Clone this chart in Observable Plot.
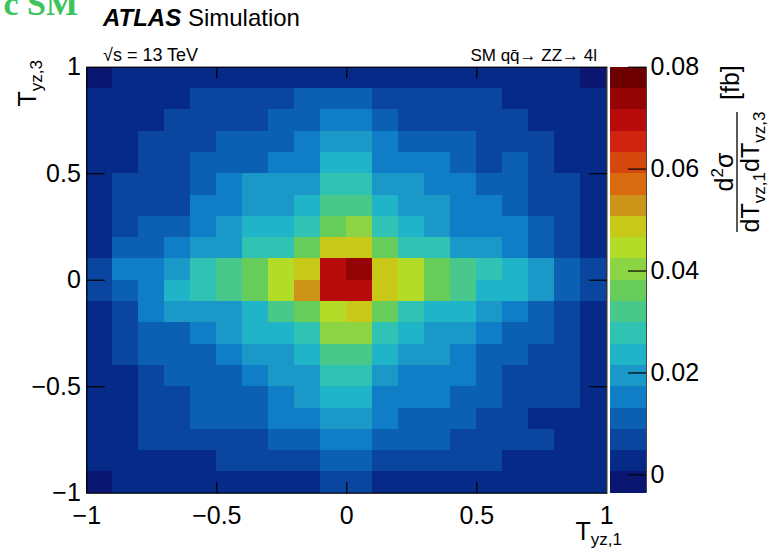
<!DOCTYPE html>
<html><head><meta charset="utf-8">
<script src="https://cdn.jsdelivr.net/npm/d3@7"></script>
<script src="https://cdn.jsdelivr.net/npm/@observablehq/plot@0.6"></script>
<style>
body{margin:0;background:#fff;}
#chart{position:relative;width:769px;height:548px;overflow:hidden;font-family:"Liberation Sans",Arial,Helvetica,sans-serif;background:#fff;}
#chart svg{position:absolute;left:0;top:0;}
</style></head><body><div id="chart"></div>
<script>
// ---------- data ----------
const xBinEdges = [-1,-0.9,-0.8,-0.7,-0.6,-0.5,-0.4,-0.3,-0.2,-0.1,0,0.1,0.2,0.3,0.4,0.5,0.6,0.7,0.8,0.9,1];
const yBinEdges = [-1,-0.9,-0.8,-0.7,-0.6,-0.5,-0.4,-0.3,-0.2,-0.1,0,0.1,0.2,0.3,0.4,0.5,0.6,0.7,0.8,0.9,1];
// d2sigma/dT1dT3 [fb], rows from T_yz,3 = 1 (top) down to -1 (bottom), columns T_yz,1 = -1 .. 1
const rowsTopToBottom = [
  [-0.0015,0.0027,0.0027,0.0027,0.0027,0.0027,0.0027,0.0027,0.0027,0.0027,0.0027,0.0027,0.0027,0.0027,0.0027,0.0027,0.0027,0.0027,0.0027,-0.0015],
  [0.0027,0.0027,0.0027,0.0027,0.0069,0.0069,0.0069,0.0069,0.0111,0.0111,0.0111,0.0069,0.0069,0.0069,0.0069,0.0069,0.0027,0.0027,0.0027,0.0027],
  [0.0027,0.0027,0.0027,0.0069,0.0069,0.0069,0.0069,0.0111,0.0111,0.0153,0.0153,0.0111,0.0069,0.0069,0.0069,0.0069,0.0069,0.0027,0.0027,0.0027],
  [0.0027,0.0027,0.0069,0.0069,0.0069,0.0111,0.0111,0.0111,0.0153,0.0194,0.0194,0.0153,0.0111,0.0111,0.0111,0.0069,0.0069,0.0069,0.0027,0.0027],
  [0.0027,0.0027,0.0069,0.0069,0.0111,0.0111,0.0111,0.0153,0.0153,0.0236,0.0236,0.0153,0.0153,0.0153,0.0111,0.0069,0.0111,0.0069,0.0027,0.0027],
  [0.0027,0.0069,0.0069,0.0069,0.0111,0.0153,0.0194,0.0194,0.0194,0.0278,0.0278,0.0194,0.0194,0.0153,0.0153,0.0111,0.0111,0.0069,0.0069,0.0027],
  [0.0027,0.0069,0.0069,0.0069,0.0153,0.0153,0.0194,0.0194,0.0236,0.0320,0.0320,0.0236,0.0194,0.0194,0.0153,0.0153,0.0111,0.0069,0.0069,0.0027],
  [0.0027,0.0069,0.0111,0.0111,0.0153,0.0194,0.0236,0.0236,0.0278,0.0362,0.0404,0.0278,0.0236,0.0194,0.0153,0.0153,0.0153,0.0111,0.0069,0.0027],
  [0.0027,0.0111,0.0111,0.0153,0.0194,0.0194,0.0278,0.0278,0.0362,0.0487,0.0487,0.0362,0.0278,0.0278,0.0194,0.0194,0.0153,0.0111,0.0069,0.0027],
  [0.0069,0.0153,0.0153,0.0194,0.0278,0.0320,0.0362,0.0446,0.0487,0.0697,0.0738,0.0487,0.0446,0.0362,0.0320,0.0278,0.0236,0.0194,0.0111,0.0069],
  [0.0069,0.0111,0.0153,0.0236,0.0278,0.0320,0.0362,0.0446,0.0529,0.0697,0.0697,0.0487,0.0446,0.0362,0.0320,0.0236,0.0236,0.0194,0.0111,0.0069],
  [0.0027,0.0069,0.0153,0.0194,0.0194,0.0194,0.0236,0.0320,0.0362,0.0446,0.0487,0.0362,0.0278,0.0236,0.0236,0.0194,0.0153,0.0111,0.0069,0.0027],
  [0.0027,0.0069,0.0111,0.0111,0.0153,0.0194,0.0236,0.0236,0.0278,0.0404,0.0404,0.0278,0.0236,0.0194,0.0194,0.0153,0.0111,0.0111,0.0069,0.0027],
  [0.0027,0.0069,0.0111,0.0111,0.0111,0.0153,0.0194,0.0194,0.0236,0.0320,0.0320,0.0236,0.0194,0.0194,0.0153,0.0111,0.0111,0.0069,0.0069,0.0027],
  [0.0027,0.0027,0.0069,0.0111,0.0111,0.0111,0.0153,0.0194,0.0194,0.0278,0.0278,0.0194,0.0153,0.0153,0.0153,0.0111,0.0069,0.0069,0.0069,0.0027],
  [0.0027,0.0027,0.0069,0.0069,0.0111,0.0111,0.0111,0.0153,0.0194,0.0236,0.0236,0.0153,0.0153,0.0153,0.0111,0.0111,0.0069,0.0069,0.0069,0.0027],
  [0.0027,0.0027,0.0069,0.0069,0.0111,0.0111,0.0111,0.0153,0.0153,0.0194,0.0194,0.0153,0.0111,0.0111,0.0111,0.0069,0.0069,0.0027,0.0027,0.0027],
  [0.0027,0.0027,0.0069,0.0069,0.0069,0.0069,0.0069,0.0111,0.0111,0.0153,0.0153,0.0111,0.0111,0.0111,0.0069,0.0069,0.0069,0.0069,0.0027,0.0027],
  [0.0027,0.0027,0.0027,0.0027,0.0027,0.0069,0.0069,0.0069,0.0069,0.0111,0.0111,0.0069,0.0069,0.0069,0.0069,0.0069,0.0027,0.0027,0.0027,0.0027],
  [-0.0015,0.0027,0.0027,0.0027,0.0027,0.0027,0.0027,0.0027,0.0027,0.0069,0.0069,0.0027,0.0027,0.0027,0.0027,0.0027,0.0027,0.0027,0.0027,0.0027]
];
const xTicks = [-1, -0.5, 0, 0.5, 1];
const yTicks = [-1, -0.5, 0, 0.5, 1];
const zTicks = [0, 0.02, 0.04, 0.06, 0.08];
const zMin = -0.0036, zMax = 0.08, nLevels = 20;
const palette = ["#0b1670","#062a88","#0a46a0","#0c60b2","#107ec6","#1a98c8","#20b4c8","#30c2b2","#48c88a","#66cc5a",
                 "#8cd444","#b2dc28","#c8c818","#cc9418","#d86a10","#d4480e","#d02410","#b80c0c","#940404","#6e0000"];

// ---------- derived ----------
const zEdges = d3.range(nLevels + 1).map(k => zMin + (zMax - zMin) * k / nLevels);
const thresholds = zEdges.slice(1, -1);
const bands = d3.range(nLevels).map(k => ({lo: zEdges[k], hi: zEdges[k + 1], mid: (zEdges[k] + zEdges[k + 1]) / 2}));
const nRows = rowsTopToBottom.length;
const cells = [];
rowsTopToBottom.forEach((row, i) => row.forEach((v, j) => cells.push({
  x1: xBinEdges[j], x2: xBinEdges[j + 1], y1: yBinEdges[nRows - 1 - i], y2: yBinEdges[nRows - i], v
})));
const colorScale = {type: "threshold", domain: thresholds, range: palette};
const fmt = d => d === 0 ? "0" : (d < 0 ? "\u2212" : "") + Math.abs(d);
const FONT = "'Liberation Sans', Arial, Helvetica, sans-serif";
const W = 769, H = 548;
const innerX = [-0.5, 0, 0.5], innerY = [-0.5, 0, 0.5];
const tX = 0.052, tY = 0.069; // inward tick lengths (data units)

const heat = Plot.plot({
  width: W, height: H,
  marginLeft: 86.3, marginRight: W - 606.3, marginTop: 66.7, marginBottom: H - 492.7,
  x: {domain: [-1, 1]},
  y: {domain: [-1, 1]},
  color: colorScale,
  style: {background: "transparent", fontFamily: FONT, color: "black", overflow: "visible"},
  marks: [
    Plot.rect(cells, {x1: "x1", x2: "x2", y1: "y1", y2: "y2", fill: "v", shapeRendering: "crispEdges"}),
    Plot.link(innerX, {x1: d => d, x2: d => d, y1: -1, y2: -1 + tX, stroke: "black", strokeWidth: 1.2}),
    Plot.link(innerX, {x1: d => d, x2: d => d, y1: 1, y2: 1 - tX, stroke: "black", strokeWidth: 1.2}),
    Plot.link(innerY, {y1: d => d, y2: d => d, x1: -1, x2: -1 + tY, stroke: "black", strokeWidth: 1.2}),
    Plot.link(innerY, {y1: d => d, y2: d => d, x1: 1, x2: 1 - tY, stroke: "black", strokeWidth: 1.2}),
    Plot.frame({stroke: "black", strokeWidth: 1.2}),
    Plot.axisX(xTicks, {tickSize: 0, tickPadding: 13, tickFormat: fmt, label: null, fontSize: 25}),
    Plot.axisY(yTicks, {tickSize: 0, tickPadding: 6, tickFormat: fmt, label: null, fontSize: 25})
  ]
});

const cbar = Plot.plot({
  width: W, height: H,
  marginLeft: 610, marginRight: W - 646, marginTop: 66.7, marginBottom: H - 492.7,
  x: {domain: [0, 1], axis: null},
  y: {domain: [zMin, zMax], axis: null},
  color: colorScale,
  style: {background: "transparent", fontFamily: FONT, color: "black", overflow: "visible"},
  marks: [
    Plot.rect(bands, {x1: 0, x2: 1, y1: "lo", y2: "hi", fill: "mid", shapeRendering: "crispEdges"}),
    Plot.ruleY(zTicks, {x1: 0.5, x2: 1, stroke: "black", strokeWidth: 1.2}),
    Plot.ruleX([1], {stroke: "#444"}),
    Plot.axisY(zTicks, {anchor: "right", tickSize: 0, tickPadding: 4, tickFormat: d => String(d), label: null, fontSize: 25})
  ]
});

const chart = document.getElementById("chart");
chart.appendChild(heat);
chart.appendChild(cbar);

// ---------- text annotations ----------
const svg = d3.create("svg").attr("width", W).attr("height", H).style("font-family", FONT).style("overflow", "visible");
svg.append("text").attr("x", 78).attr("y", 15).attr("text-anchor", "end")
  .style("font-family", "'Liberation Serif', 'Times New Roman', serif").style("font-weight", "bold")
  .style("font-size", "34px").attr("fill", "#3ec45c").text("c SM");
const t1 = svg.append("text").attr("x", 103).attr("y", 26).style("font-size", "24px");
t1.append("tspan").style("font-weight", "bold").style("font-style", "italic").text("ATLAS");
t1.append("tspan").text(" Simulation");
svg.append("text").attr("x", 103).attr("y", 61).style("font-size", "18px").text("\u221As = 13 TeV");
svg.append("text").attr("x", 597).attr("y", 61).attr("text-anchor", "end").style("font-size", "17px")
  .text("SM  qq\u0304\u2192 ZZ\u2192 4l");

// x title
const xt = svg.append("text").attr("x", 622).attr("y", 540).attr("text-anchor", "end").style("font-size", "25px");
xt.append("tspan").text("T");
xt.append("tspan").attr("dy", 5).style("font-size", "17px").text("yz,1");
// y title
const yt = svg.append("g").attr("transform", "translate(36,60) rotate(-90)");
const ytt = yt.append("text").attr("text-anchor", "end").style("font-size", "25px");
ytt.append("tspan").text("T");
ytt.append("tspan").attr("dy", 6).style("font-size", "17px").text("yz,3");
// colour bar title (fraction)
const zt = svg.append("g").attr("transform", "translate(737,232) rotate(-90)");
zt.append("line").attr("x1", 0).attr("x2", 120).attr("y1", 0).attr("y2", 0).attr("stroke", "black").attr("stroke-width", 1.3);
const num = zt.append("text").attr("x", 60).attr("y", -4).attr("text-anchor", "middle").style("font-size", "25px");
num.append("tspan").text("d");
num.append("tspan").attr("dy", -10).style("font-size", "17px").text("2");
num.append("tspan").attr("dy", 10).text("\u03C3");
const den = zt.append("text").attr("x", 60).attr("y", 22).attr("text-anchor", "middle").style("font-size", "25px");
den.append("tspan").text("dT");
den.append("tspan").attr("dy", 6).style("font-size", "17px").text("vz,1");
den.append("tspan").attr("dy", -6).text("dT");
den.append("tspan").attr("dy", 6).style("font-size", "17px").text("vz,3");
zt.append("text").attr("x", 132).attr("y", 2).style("font-size", "25px").text("[fb]");
chart.appendChild(svg.node());
</script></body></html>
